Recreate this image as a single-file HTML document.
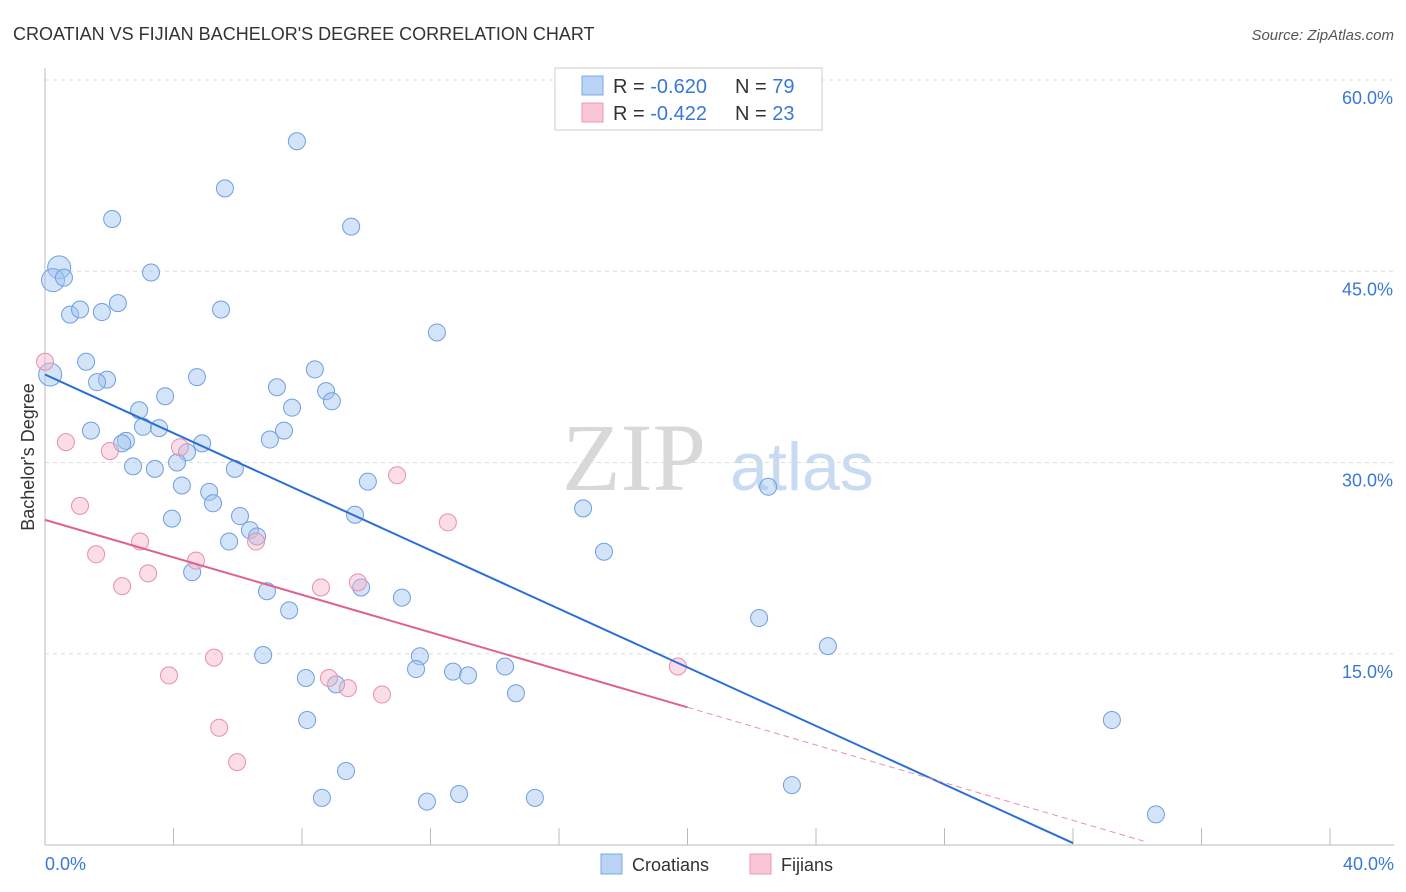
<!DOCTYPE html>
<html><head><meta charset="utf-8"><style>
body{margin:0;background:#fff;font-family:"Liberation Sans",sans-serif;}
svg{display:block}
</style></head><body>
<svg id="chart" width="1406" height="892">
<text x="13" y="40" font-size="18" fill="#333">CROATIAN VS FIJIAN BACHELOR'S DEGREE CORRELATION CHART</text>
<text x="1394" y="40" font-size="15" fill="#555" font-style="italic" text-anchor="end">Source: ZipAtlas.com</text>
<text x="634" y="490" font-size="96" fill="#d8d8d8" font-family="Liberation Serif,serif" text-anchor="middle">ZIP</text>
<text x="802" y="490" font-size="68" fill="#c8dbf3" text-anchor="middle">atlas</text>
<text transform="translate(34,457) rotate(-90)" font-size="18" fill="#333" text-anchor="middle">Bachelor's Degree</text>
<g id="grid"></g><g id="axes"></g><g id="pts"></g><g id="lines"></g>
<g>
<rect x="555" y="68" width="267" height="62" fill="#fff" stroke="#ccc"/>
<rect x="582" y="76" width="21" height="19" fill="#b9d3f5" stroke="#7aa8e6"/>
<rect x="582" y="103" width="21" height="19" fill="#f9c6d6" stroke="#ec99b3"/>
<text x="613" y="93" font-size="20" fill="#333">R = <tspan fill="#3a78d6">-0.620</tspan></text>
<text x="735" y="93" font-size="20" fill="#333">N = <tspan fill="#3a78d6">79</tspan></text>
<text x="613" y="120" font-size="20" fill="#333">R = <tspan fill="#3a78d6"> -0.422</tspan></text>
<text x="735" y="120" font-size="20" fill="#333">N = <tspan fill="#3a78d6">23</tspan></text>
</g>
<g>
<rect x="601" y="854" width="21" height="20" fill="#b9d3f5" stroke="#7aa8e6"/>
<text x="632" y="871" font-size="18" fill="#333">Croatians</text>
<rect x="750" y="854" width="21" height="20" fill="#f9c6d6" stroke="#ec99b3"/>
<text x="781" y="871" font-size="18" fill="#333">Fijians</text>
</g>
</svg>
<script>
const blueX=[7.84,5.60,2.09,9.53,0.44,0.25,0.59,3.30,2.27,5.48,0.78,1.09,1.77,12.20,1.28,0.16,1.93,1.62,4.73,8.40,7.22,8.75,8.93,3.74,2.93,7.69,1.43,3.05,3.55,2.52,2.40,4.89,7.44,7.00,4.42,2.74,3.42,4.11,5.91,10.05,4.26,5.11,5.23,22.51,16.75,3.95,6.07,9.65,6.38,6.60,5.73,17.40,4.58,9.84,6.91,11.11,7.60,22.23,24.37,6.79,11.67,11.55,12.70,13.17,14.32,8.12,9.06,14.66,8.16,33.21,9.37,8.62,11.89,12.89,15.25,23.25,34.58];
const blueY=[55.2,51.5,49.1,48.5,45.3,44.3,44.5,44.9,42.5,42.0,41.6,42.0,41.8,40.2,37.9,36.9,36.5,36.3,36.7,37.3,35.9,35.6,34.8,35.2,34.1,34.3,32.5,32.8,32.7,31.7,31.5,31.5,32.5,31.8,30.8,29.7,29.5,30.0,29.5,28.5,28.2,27.7,26.8,28.1,26.4,25.6,25.8,25.9,24.7,24.2,23.8,23.0,21.4,20.2,19.9,19.4,18.4,17.8,15.6,14.9,14.8,13.8,13.6,13.3,14.0,13.1,12.6,11.9,9.8,9.8,5.8,3.7,3.4,4.0,3.7,4.7,2.4];
const blueBig=[4,5,15];
const pinkX=[0,0.65,1.09,2.02,1.59,2.96,2.40,3.21,3.86,4.20,4.70,5.26,5.42,5.98,6.57,8.59,9.74,8.84,9.43,10.49,10.96,12.54,19.70];
const pinkY=[37.9,31.6,26.6,30.9,22.8,23.8,20.3,21.3,13.3,31.2,22.3,14.7,9.2,6.5,23.8,20.2,20.6,13.1,12.3,11.8,29.0,25.3,14.0];
const blueLineX=[0,32.0], blueLineY=[36.9,0.15];
const pinkLineX=[0,20.0,34.2], pinkLineY=[25.5,10.8,0.3];
const yTicks=[15,30,45,60], yTickLabels=["15.0%","30.0%","45.0%","60.0%"];
const xTickCount=10;
const NS="http://www.w3.org/2000/svg";
const sx=v=>45+v*32.125, sy=v=>845-v*12.75;
function mk(p,t,a){const e=document.createElementNS(NS,t);for(const k in a)e.setAttribute(k,a[k]);p.appendChild(e);return e;}
const grid=document.getElementById('grid'),axes=document.getElementById('axes'),pts=document.getElementById('pts'),lines=document.getElementById('lines');
yTicks.forEach((t,i)=>{
 const l=mk(grid,'line',{x1:45,x2:1394,y1:sy(t),y2:sy(t),stroke:'#ddd','stroke-dasharray':'4,4'});
 
 
 const tx=mk(axes,'text',{x:1393,y:sy(t)+24,'font-size':18,fill:'#3a78d6','text-anchor':'end'});
 tx.textContent=yTickLabels[i];
 
 
});
mk(axes,'line',{x1:45,x2:45,y1:68,y2:845,stroke:'#bbb'});
mk(axes,'line',{x1:45,x2:1394,y1:845,y2:845,stroke:'#bbb'});
for(let i=0;i<=xTickCount;i++){const x=sx(i*4);mk(axes,'line',{x1:x,x2:x,y1:828,y2:845,stroke:'#bbb'});}
const x0=mk(axes,'text',{x:45,y:870,'font-size':18,fill:'#3a78d6'});x0.textContent='0.0%';


const x1=mk(axes,'text',{x:1394,y:870,'font-size':18,fill:'#3a78d6','text-anchor':'end'});x1.textContent='40.0%';


blueX.forEach((v,i)=>{
 const c=mk(pts,'circle',{cx:sx(v),cy:sy(blueY[i]),r:blueBig.includes(i)?11.5:8.5,fill:'rgba(160,195,240,0.45)',stroke:'#6f9fe0','stroke-width':1});
 
 
});
pinkX.forEach((v,i)=>{
 const c=mk(pts,'circle',{cx:sx(v),cy:sy(pinkY[i]),r:8.5,fill:'rgba(245,180,200,0.45)',stroke:'#e88fae','stroke-width':1});
 
 
});
const bl=mk(lines,'line',{x1:sx(blueLineX[0]),y1:sy(blueLineY[0]),x2:sx(blueLineX[1]),y2:sy(blueLineY[1]),stroke:'#2a6fd6','stroke-width':2});


const pl=mk(lines,'line',{x1:sx(pinkLineX[0]),y1:sy(pinkLineY[0]),x2:sx(pinkLineX[1]),y2:sy(pinkLineY[1]),stroke:'#e0628c','stroke-width':2});


const pd=mk(lines,'line',{x1:sx(pinkLineX[1]),y1:sy(pinkLineY[1]),x2:sx(pinkLineX[2]),y2:sy(pinkLineY[2]),stroke:'#e88fae','stroke-width':1,'stroke-dasharray':'6,4'});


</script>
</body></html>
